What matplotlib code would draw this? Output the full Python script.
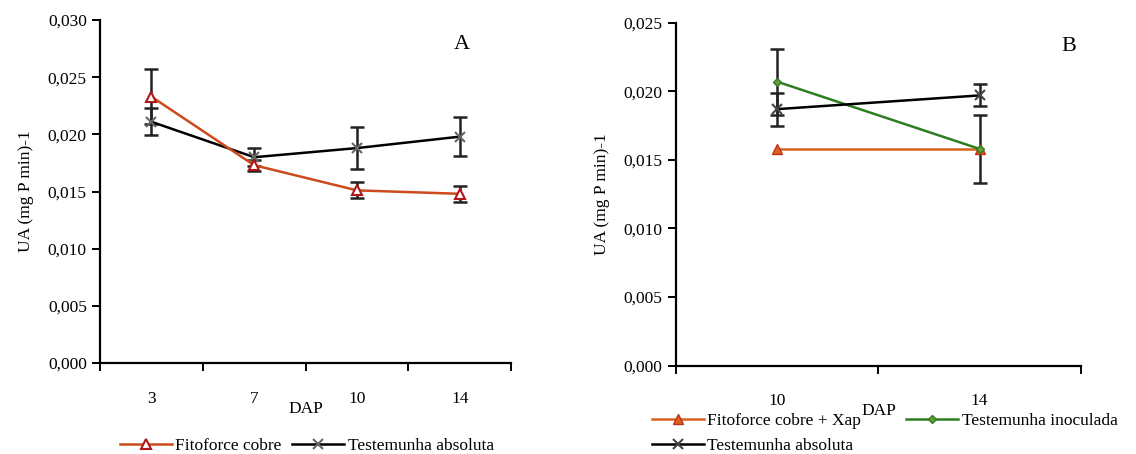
import matplotlib
matplotlib.use('Agg')
import matplotlib.pyplot as plt

plt.rcParams['font.family'] = ['Liberation Serif', 'DejaVu Serif']

# Painel A
dap_a = ['3', '7', '10', '14']
fito_a = [0.0233, 0.0173, 0.0151, 0.0148]
fito_a_err = [0.0024, 0.0005, 0.0007, 0.0007]
abs_a = [0.0211, 0.0180, 0.0188, 0.0198]
abs_a_err = [0.0012, 0.0008, 0.0018, 0.0017]

# Painel B
dap_b = ['10', '14']
fitoxap_b = [0.0158, 0.0158]
inoc_b = [0.0207, 0.0158]
inoc_b_err = [0.0024, 0.0025]
abs_b = [0.0187, 0.0197]
abs_b_err = [0.0012, 0.0008]

FS = 12.5
ORANGE = '#cc4a1c'
GREEN = '#2f7d22'
EB = dict(fmt='none', ecolor='#222222', elinewidth=1.8, capsize=5, capthick=1.8)


def setup_axis(ax, cats, ymax, ystep):
    n = len(cats)
    ax.set_xlim(-0.5, n - 0.5)
    ax.set_ylim(0, ymax)
    ax.spines['top'].set_visible(False)
    ax.spines['right'].set_visible(False)
    ax.spines['left'].set_linewidth(1.6)
    ax.spines['bottom'].set_linewidth(1.6)
    # marcas entre as categorias, rótulos no centro
    ax.set_xticks([i - 0.5 for i in range(n + 1)])
    ax.set_xticklabels([])
    ax.set_xticks(range(n), minor=True)
    ax.set_xticklabels(cats, minor=True, fontsize=FS)
    ax.tick_params(axis='x', which='major', direction='out', length=6, width=1.4)
    ax.tick_params(axis='x', which='minor', length=0, pad=20)
    yt = [i * ystep for i in range(int(round(ymax / ystep)) + 1)]
    ax.set_yticks(yt)
    ax.set_yticklabels([f'{v:.3f}'.replace('.', ',') for v in yt], fontsize=FS)
    ax.tick_params(axis='y', direction='out', length=6, width=1.4)
    ax.set_ylabel('UA (mg P min)-1', fontsize=FS, labelpad=10)
    ax.text(0.5, -0.11, 'DAP', transform=ax.transAxes, ha='center', va='top', fontsize=FS)


fig = plt.figure(figsize=(11.36, 4.54), dpi=100)
axA = fig.add_axes([0.088, 0.2004, 0.362, 0.7555])
axB = fig.add_axes([0.595, 0.1945, 0.3565, 0.7555])

xa = range(len(dap_a))
axA.errorbar(xa, abs_a, yerr=abs_a_err, **EB)
axA.errorbar(xa, fito_a, yerr=fito_a_err, **EB)
l_abs_a, = axA.plot(xa, abs_a, color='black', marker='x', mec='#666666', ms=7, mew=1.5, lw=1.8,
                    label='Testemunha absoluta')
l_fito_a, = axA.plot(xa, fito_a, color=ORANGE, marker='^', mfc='white', mec='#b01818', ms=7,
                     mew=1.5, lw=1.8, label='Fitoforce cobre')
setup_axis(axA, dap_a, 0.030, 0.005)
axA.text(0.88, 0.93, 'A', transform=axA.transAxes, ha='center', va='center', fontsize=16)
fig.legend([l_fito_a, l_abs_a], ['Fitoforce cobre', 'Testemunha absoluta'], ncol=2, loc='center',
           bbox_to_anchor=(0.27, 0.017), frameon=False, fontsize=FS, handlelength=3,
           columnspacing=0.6, handletextpad=0.2)

xb = range(len(dap_b))
axB.errorbar(xb, abs_b, yerr=abs_b_err, **EB)
axB.errorbar(xb, inoc_b, yerr=inoc_b_err, **EB)
l_fito_b, = axB.plot(xb, fitoxap_b, color='#d8621e', marker='^', mfc='#d8621e', mec='#c0301a',
                     ms=7, lw=1.8, label='Fitoforce cobre + Xap')
l_inoc_b, = axB.plot(xb, inoc_b, color=GREEN, marker='D', mfc='#6a9a3a', mec=GREEN, ms=4, lw=1.8,
                     label='Testemunha inoculada')
l_abs_b, = axB.plot(xb, abs_b, color='black', marker='x', mec='#444444', ms=7, mew=1.5, lw=1.8,
                    label='Testemunha absoluta')
setup_axis(axB, dap_b, 0.025, 0.005)
axB.text(0.97, 0.93, 'B', transform=axB.transAxes, ha='center', va='center', fontsize=16)
fig.legend([l_fito_b, l_abs_b, l_inoc_b],
           ['Fitoforce cobre + Xap', 'Testemunha absoluta', 'Testemunha inoculada'],
           ncol=2, loc='upper left', bbox_to_anchor=(0.563, 0.118),
           frameon=False, fontsize=FS, handlelength=3, columnspacing=2.6, handletextpad=0.2,
           labelspacing=0.55, borderpad=0.2)

fig.savefig('out.png', dpi=100)
